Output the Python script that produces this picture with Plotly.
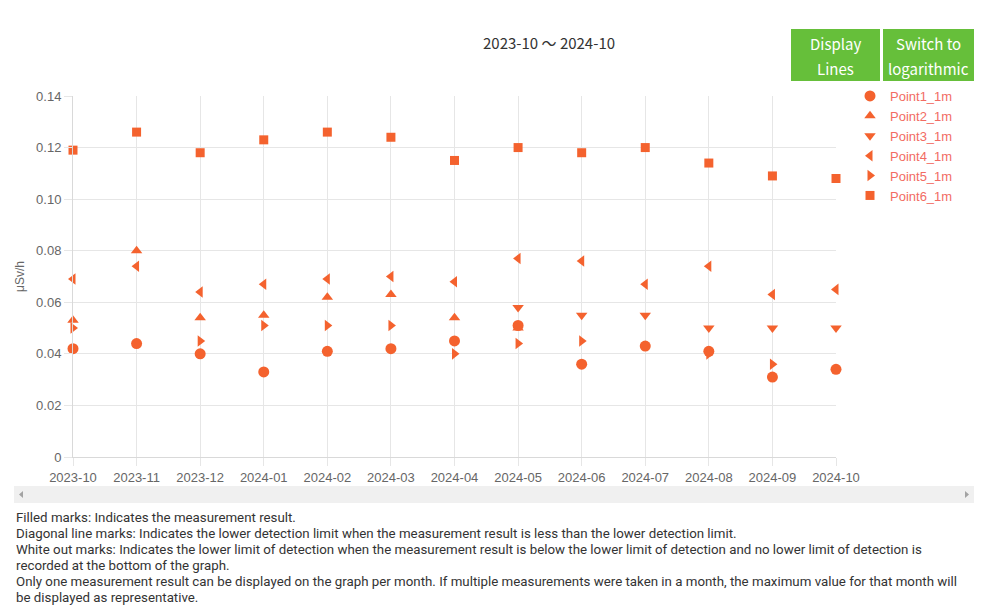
import plotly.graph_objects as go

# the page body has an 8px margin, so the figure sits at (8, 8)
OFF = 8
W, H = 993 - OFF, 614 - OFF
L, R, T, B = 73 - OFF, 836 - OFF, 96 - OFF, 457 - OFF  # plot area in figure pixels

months = ["2023-10", "2023-11", "2023-12", "2024-01", "2024-02", "2024-03", "2024-04",
          "2024-05", "2024-06", "2024-07", "2024-08", "2024-09", "2024-10"]

point1 = [0.042, 0.044, 0.040, 0.033, 0.041, 0.042, 0.045, 0.051, 0.036, 0.043, 0.041, 0.031, 0.034]
point2 = [0.053, 0.080, 0.054, 0.055, 0.062, 0.063, 0.054, 0.050, None, None, None, None, None]
point3 = [None, None, None, None, None, None, None, 0.058, 0.055, 0.055, 0.050, 0.050, 0.050]
point4 = [0.069, 0.074, 0.064, 0.067, 0.069, 0.070, 0.068, 0.077, 0.076, 0.067, 0.074, 0.063, 0.065]
point5 = [0.050, None, 0.045, 0.051, 0.051, 0.051, 0.040, 0.044, 0.045, None, 0.040, 0.036, None]
point6 = [0.119, 0.126, 0.118, 0.123, 0.126, 0.124, 0.115, 0.120, 0.118, 0.120, 0.114, 0.109, 0.108]

series = [
    ("Point1_1m", point1, "circle", 11),
    ("Point2_1m", point2, "triangle-up", 10),
    ("Point3_1m", point3, "triangle-down", 10),
    ("Point4_1m", point4, "triangle-left", 10),
    ("Point5_1m", point5, "triangle-right", 10),
    ("Point6_1m", point6, "square", 9),
]

y_ticks = [0, 0.02, 0.04, 0.06, 0.08, 0.10, 0.12, 0.14]
y_ticktext = ["0", "0.02", "0.04", "0.06", "0.08", "0.10", "0.12", "0.14"]

notes = [
    "Filled marks: Indicates the measurement result.",
    "Diagonal line marks: Indicates the lower detection limit when the measurement result is less than the lower detection limit.",
    "White out marks: Indicates the lower limit of detection when the measurement result is below the lower limit of detection and no lower limit of detection is",
    "recorded at the bottom of the graph.",
    "Only one measurement result can be displayed on the graph per month. If multiple measurements were taken in a month, the maximum value for that month will",
    "be displayed as representative.",
]

MARKER = "#f4622e"
LEGEND_TEXT = "#f26b63"
GREEN = "#66bf3a"
TICK_FONT = dict(family="Liberation Sans, Arial", size=13, color="#666666")
JP_FONT = "Noto Sans CJK JP, Noto Sans"


# helpers take page (reference) pixel coordinates
def px_x(x):
    return (x - OFF - L) / (R - L)


def px_y(y):
    return (B - (y - OFF)) / (B - T)


fig = go.Figure()
for name, vals, sym, size in series:
    fig.add_trace(go.Scatter(
        x=months,
        y=vals,
        mode="markers",
        name=name,
        marker=dict(symbol=sym, size=size, color=MARKER, line=dict(width=0)),
        cliponaxis=False,
    ))

shapes = []
annotations = []

# buttons
for x0, x1, lines in [(791, 880, ["Display", "Lines"]), (883, 974, ["Switch to", "logarithmic"])]:
    shapes.append(dict(type="rect", xref="paper", yref="paper",
                       x0=px_x(x0), x1=px_x(x1), y0=px_y(81), y1=px_y(29),
                       fillcolor=GREEN, line=dict(width=0), layer="above"))
    for i, txt in enumerate(lines):
        annotations.append(dict(text=txt, xref="paper", yref="paper",
                                x=px_x((x0 + x1) / 2), y=px_y(43 + 25 * i),
                                xanchor="center", yanchor="middle", showarrow=False,
                                font=dict(family=JP_FONT, size=15, color="white")))

# title
annotations.append(dict(text="2023-10 〜 2024-10", xref="paper", yref="paper",
                        x=px_x(549), y=px_y(42), xanchor="center", yanchor="middle",
                        showarrow=False, font=dict(family=JP_FONT, size=15, color="#333333")))

# scrollbar
shapes.append(dict(type="rect", xref="paper", yref="paper",
                   x0=px_x(14), x1=px_x(974), y0=px_y(503), y1=px_y(486),
                   fillcolor="#f0f0f0", line=dict(width=0)))
for path in [
    f"M {px_x(23)} {px_y(491)} L {px_x(19)} {px_y(494.5)} L {px_x(23)} {px_y(498)} Z",
    f"M {px_x(965)} {px_y(491)} L {px_x(969)} {px_y(494.5)} L {px_x(965)} {px_y(498)} Z",
]:
    shapes.append(dict(type="path", xref="paper", yref="paper", path=path,
                       fillcolor="#a3a3a3", line=dict(width=0)))

# notes
for i, txt in enumerate(notes):
    annotations.append(dict(text=txt, xref="paper", yref="paper",
                            x=px_x(14), y=px_y(517 + 16 * i), xanchor="left", yanchor="middle",
                            showarrow=False, font=dict(family="Roboto", size=13.3, color="#333333")))

fig.update_layout(
    width=W,
    height=H,
    margin=dict(l=L, r=W - R, t=T, b=H - B, pad=0),
    paper_bgcolor="white",
    plot_bgcolor="white",
    showlegend=True,
    legend=dict(x=px_x(850), y=px_y(81), xanchor="left", yanchor="top",
                font=dict(family="Liberation Sans, Arial", size=13, color=LEGEND_TEXT),
                itemwidth=30, tracegroupgap=0, bgcolor="rgba(0,0,0,0)"),
    xaxis=dict(type="category", range=[0, 12], showgrid=True, gridcolor="#e6e6e6",
               showline=True, linecolor="#d9d9d9", ticks="outside", ticklen=8,
               tickcolor="#e6e6e6", tickfont=TICK_FONT, zeroline=False, fixedrange=True),
    yaxis=dict(range=[0, 0.14], tickvals=y_ticks, ticktext=y_ticktext, showgrid=True,
               gridcolor="#e6e6e6", showline=True, linecolor="#d9d9d9", ticks="outside",
               ticklen=8, tickcolor="#e6e6e6", tickfont=TICK_FONT, zeroline=False,
               title=dict(text="μSv/h", font=dict(family="Liberation Sans, Arial", size=12, color="#666666"),
                          standoff=8), fixedrange=True),
    shapes=shapes,
    annotations=annotations,
)

fig.write_html("out.html", config={"displayModeBar": False})
